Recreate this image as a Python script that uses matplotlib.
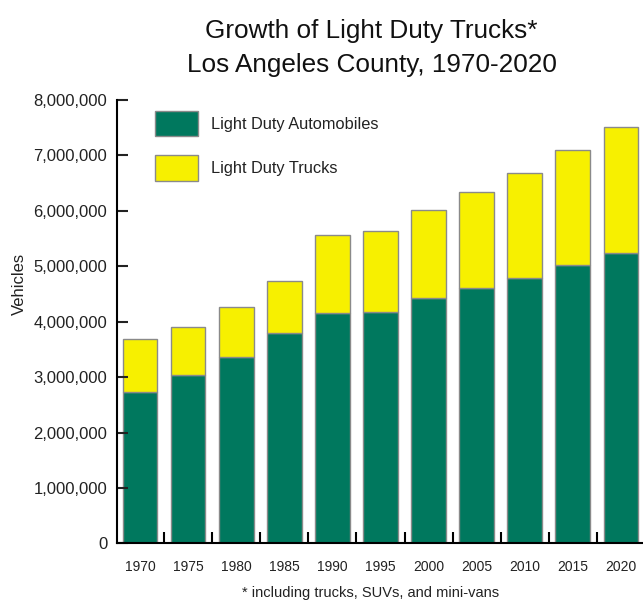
import matplotlib
matplotlib.use("Agg")
import matplotlib.pyplot as plt
from matplotlib.patches import Patch
from matplotlib.ticker import FuncFormatter
import numpy as np

plt.rcParams['font.family'] = ['Liberation Sans', 'DejaVu Sans']

years = ['1970', '1975', '1980', '1985', '1990', '1995',
         '2000', '2005', '2010', '2015', '2020']
automobiles = [2730000, 3040000, 3370000, 3790000, 4150000, 4170000,
               4420000, 4610000, 4790000, 5020000, 5240000]
totals = [3690000, 3900000, 4260000, 4730000, 5560000, 5640000,
          6020000, 6340000, 6680000, 7100000, 7510000]
trucks = [t - a for t, a in zip(totals, automobiles)]

green = '#00785e'
yellow = '#f7f000'
edge = '#8a8a8a'

fig = plt.figure(figsize=(6.43, 6.03), dpi=100)
ax = fig.add_axes([0.182, 0.0987, 0.818, 0.7355])

x = np.arange(len(years))
ax.bar(x, automobiles, width=0.72, color=green, edgecolor=edge, linewidth=1)
ax.bar(x, trucks, width=0.72, bottom=automobiles, color=yellow,
       edgecolor=edge, linewidth=1)

ax.set_xlim(-0.48, 10.46)
ax.set_ylim(0, 8000000)
ax.set_yticks(np.arange(0, 8000001, 1000000))
ax.yaxis.set_major_formatter(FuncFormatter(lambda v, p: f'{int(v):,}'))
ax.set_xticks(x)
ax.set_xticklabels(years)
ax.set_xticks(x[:-1] + 0.5, minor=True)

for s in ['top', 'right']:
    ax.spines[s].set_visible(False)
for s in ['left', 'bottom']:
    ax.spines[s].set_linewidth(1.5)

ax.tick_params(axis='y', direction='in', length=8, width=1.5,
               labelsize=12, pad=7, colors='#222222')
ax.tick_params(axis='x', which='major', length=0, labelsize=10, pad=12,
               colors='#222222')
ax.tick_params(axis='x', which='minor', direction='in', length=8, width=1.5)

ax.set_ylabel('Vehicles', fontsize=12, color='#222222')
ax.yaxis.set_label_coords(-0.172, 0.585)

handles = [Patch(facecolor=green, edgecolor=edge, linewidth=1),
           Patch(facecolor=yellow, edgecolor=edge, linewidth=1)]
ax.legend(handles, ['Light Duty Automobiles', 'Light Duty Trucks'],
          loc='upper left', bbox_to_anchor=(0.072, 0.976), frameon=False,
          fontsize=11.8, handlelength=2.65, handleheight=2.05,
          labelspacing=1.15, handletextpad=0.8, borderpad=0,
          borderaxespad=0, labelcolor='#222222')

fig.text(0.578, 0.968, 'Growth of Light Duty Trucks*', ha='center',
         va='top', fontsize=18.8, color='#111111')
fig.text(0.578, 0.912, 'Los Angeles County, 1970-2020', ha='center',
         va='top', fontsize=18.8, color='#111111')
fig.text(0.576, 0.017, '* including trucks, SUVs, and mini-vans',
         ha='center', va='center', fontsize=10.5, color='#222222')

fig.savefig('out.png', dpi=100)
